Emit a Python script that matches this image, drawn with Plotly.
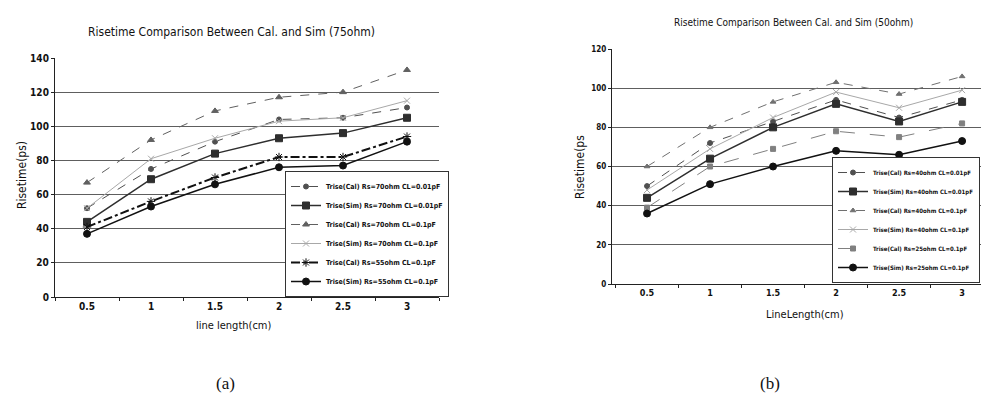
import plotly.graph_objects as go

# ---------------- data ----------------
categories = ["0.5", "1", "1.5", "2", "2.5", "3"]

# (a) 75 ohm
a_names = [
    "Trise(Cal) Rs=70ohm CL=0.01pF",
    "Trise(Sim) Rs=70ohm CL=0.01pF",
    "Trise(Cal) Rs=70ohm CL=0.1pF",
    "Trise(Sim) Rs=70ohm CL=0.1pF",
    "Trise(Cal) Rs=55ohm CL=0.1pF",
    "Trise(Sim) Rs=55ohm CL=0.1pF",
]
a_cal70_001 = [52, 75, 91, 104, 105, 111]
a_sim70_001 = [44, 69, 84, 93, 96, 105]
a_cal70_01 = [67, 92, 109, 117, 120, 133]
a_sim70_01 = [52, 81, 93, 103, 105, 115]
a_cal55_01 = [41, 56, 70, 82, 82, 94]
a_sim55_01 = [37, 53, 66, 76, 77, 91]

# (b) 50 ohm
b_names = [
    "Trise(Cal) Rs=40ohm CL=0.01pF",
    "Trise(Sim) Rs=40ohm CL=0.01pF",
    "Trise(Cal) Rs=40ohm CL=0.1pF",
    "Trise(Sim) Rs=40ohm CL=0.1pF",
    "Trise(Cal) Rs=25ohm CL=0.1pF",
    "Trise(Sim) Rs=25ohm CL=0.1pF",
]
b_cal40_001 = [50, 72, 83, 94, 85, 94]
b_sim40_001 = [44, 64, 80, 92, 83, 93]
b_cal40_01 = [60, 80, 93, 103, 97, 106]
b_sim40_01 = [48, 69, 85, 98, 90, 99]
b_cal25_01 = [39, 60, 69, 78, 75, 82]
b_sim25_01 = [36, 51, 60, 68, 66, 73]

a_series = [a_cal70_001, a_sim70_001, a_cal70_01, a_sim70_01, a_cal55_01, a_sim55_01]
b_series = [b_cal40_001, b_sim40_001, b_cal40_01, b_sim40_01, b_cal25_01, b_sim25_01]

# ---------------- styles ----------------
a_styles = [
    dict(color="#505050", dash="dash", width=1, symbol="circle", size=5),
    dict(color="#2e2e2e", dash="solid", width=1.5, symbol="square", size=7),
    dict(color="#606060", dash="dash", width=1, symbol="triangle-up", size=6),
    dict(color="#a8a8a8", dash="solid", width=1, symbol="x-thin-open", size=6),
    dict(color="#111111", dash="dashdot", width=2, symbol="asterisk-open", size=7),
    dict(color="#111111", dash="solid", width=1.5, symbol="circle", size=7),
]
b_styles = [
    dict(color="#505050", dash="dash", width=1, symbol="circle", size=5),
    dict(color="#2e2e2e", dash="solid", width=1.5, symbol="square", size=7),
    dict(color="#707070", dash="dash", width=1, symbol="triangle-up", size=5),
    dict(color="#a8a8a8", dash="solid", width=1, symbol="x-thin-open", size=6),
    dict(color="#808080", dash="longdash", width=1, symbol="square", size=5),
    dict(color="#111111", dash="solid", width=1.5, symbol="circle", size=7),
]

NARROW = "Liberation Sans Narrow, Arial Narrow, DejaVu Sans Condensed, sans-serif"

fig = go.Figure()

for name, ys, st in zip(a_names, a_series, a_styles):
    fig.add_trace(go.Scatter(
        x=categories, y=ys, name=name, mode="lines+markers",
        xaxis="x", yaxis="y", legend="legend",
        line=dict(color=st["color"], dash=st["dash"], width=st["width"]),
        marker=dict(symbol=st["symbol"], size=st["size"], color=st["color"],
                    line=dict(color=st["color"], width=1)),
    ))

for name, ys, st in zip(b_names, b_series, b_styles):
    fig.add_trace(go.Scatter(
        x=categories, y=ys, name=name, mode="lines+markers",
        xaxis="x2", yaxis="y2", legend="legend2",
        line=dict(color=st["color"], dash=st["dash"], width=st["width"]),
        marker=dict(symbol=st["symbol"], size=st["size"], color=st["color"],
                    line=dict(color=st["color"], width=1)),
    ))

W, H = 981, 407


def px(x):
    return x / W


def py(y):
    return 1 - y / H


grid = "#5e5e5e"
axis_common = dict(showline=True, linecolor="#222222", linewidth=1.2,
                   ticks="outside", tickcolor="#222222", ticklen=3,
                   zeroline=False, fixedrange=True)

fig.update_layout(
    width=W, height=H,
    margin=dict(l=0, r=0, t=0, b=0, autoexpand=False),
    paper_bgcolor="white", plot_bgcolor="white",
    font=dict(family=NARROW, color="#111111"),
    xaxis=dict(domain=[px(55), px(439)], anchor="y", type="category",
               range=[-0.5, 5.5], showgrid=False, tickson="boundaries",
               tickfont=dict(size=10, weight="bold"), **axis_common),
    yaxis=dict(domain=[py(297), py(58)], anchor="x", range=[0, 140],
               dtick=20, showgrid=True, gridcolor=grid, gridwidth=1,
               tickfont=dict(size=10, weight="bold"), **axis_common),
    xaxis2=dict(domain=[px(612), 1.0], anchor="y2", type="category",
                range=[-0.556, 5.30], showgrid=False, tickson="boundaries",
                tickfont=dict(size=9, weight="bold"), **axis_common),
    yaxis2=dict(domain=[py(284), py(49)], anchor="x2", range=[0, 120],
                dtick=20, showgrid=True, gridcolor=grid, gridwidth=1,
                tickfont=dict(size=8, weight="bold"), **axis_common),
    legend=dict(x=px(285), y=py(297), xanchor="left", yanchor="bottom",
                bgcolor="white", bordercolor="#333333", borderwidth=1,
                font=dict(size=7, family=NARROW, weight="bold"),
                tracegroupgap=0, itemwidth=30),
    legend2=dict(x=px(980), y=py(283), xanchor="right", yanchor="bottom",
                 bgcolor="white", bordercolor="#333333", borderwidth=1,
                 font=dict(size=6, family=NARROW, weight="bold"),
                 tracegroupgap=0, itemwidth=30),
    showlegend=True,
)

annotations = [
    dict(text="Risetime Comparison Between Cal. and Sim (75ohm)", x=px(231), y=py(32),
         font=dict(size=12)),
    dict(text="Risetime Comparison Between Cal. and Sim (50ohm)", x=px(793), y=py(22),
         font=dict(size=10)),
    dict(text="line length(cm)", x=px(234), y=py(325), font=dict(size=11)),
    dict(text="LineLength(cm)", x=px(805), y=py(314), font=dict(size=11)),
    dict(text="Risetime(ps)", x=px(22), y=py(175), textangle=-90, font=dict(size=12)),
    dict(text="Risetime(ps", x=px(580), y=py(167), textangle=-90, font=dict(size=12)),
    dict(text="(a)", x=px(225), y=py(383),
         font=dict(size=17, family="Liberation Serif, Times New Roman, serif")),
    dict(text="(b)", x=px(770), y=py(383),
         font=dict(size=17, family="Liberation Serif, Times New Roman, serif")),
]
for a in annotations:
    a.update(xref="paper", yref="paper", showarrow=False, xanchor="center", yanchor="middle")
fig.update_layout(annotations=annotations)

fig.write_html("out.html", config={"displayModeBar": False})
